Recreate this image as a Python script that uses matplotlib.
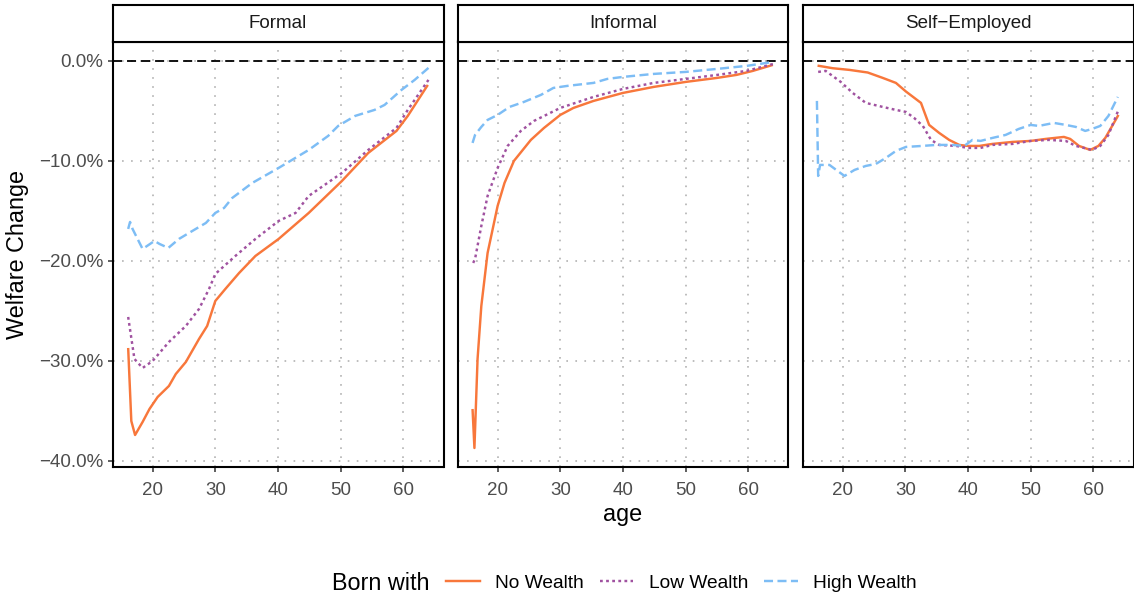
import matplotlib
matplotlib.use("Agg")
import matplotlib.pyplot as plt
from matplotlib.lines import Line2D
from matplotlib.ticker import FuncFormatter, FixedLocator

plt.rcParams['font.family'] = ['Liberation Sans', 'DejaVu Sans']
plt.rcParams['lines.scale_dashes'] = False

# ---------------------------------------------------------------- data
sectors = ["Formal", "Informal", "Self\u2212Employed"]
groups = ["No Wealth", "Low Wealth", "High Wealth"]

# Formal sector
formal_no_age = [16.1, 16.6, 17.2, 18.4, 19.5, 20.8, 22.6, 23.7, 25.3, 27.4, 28.7, 30.0,
                 31.6, 33.8, 36.4, 40.1, 44.9, 50.2, 54.4, 58.9, 60.7, 63.9]
formal_no_val = [-28.7, -36.0, -37.4, -36.1, -34.8, -33.6, -32.5, -31.3, -30.1, -27.8, -26.5, -24.0,
                 -22.8, -21.2, -19.5, -17.8, -15.2, -12.0, -9.2, -7.0, -5.5, -2.4]
formal_low_age = [16.1, 17.1, 18.4, 20.0, 22.6, 25.3, 27.4, 29.0, 30.0, 33.2, 36.4, 40.1,
                  42.8, 44.9, 50.2, 54.4, 58.9, 60.7, 64.0]
formal_low_val = [-25.6, -29.8, -30.7, -30.0, -28.1, -26.5, -24.8, -22.8, -21.3, -19.5, -17.8, -16.0,
                  -15.2, -13.5, -11.2, -8.9, -6.7, -4.9, -1.9]
formal_high_age = [16.1, 16.4, 16.8, 18.4, 20.3, 21.1, 22.5, 24.2, 25.8, 28.5, 30.0, 31.4,
                   32.7, 35.9, 40.1, 44.9, 48.0, 49.6, 52.3, 55.4, 57.0, 59.7, 61.8, 64.0]
formal_high_val = [-16.8, -16.1, -16.8, -18.8, -18.0, -18.3, -18.7, -17.8, -17.2, -16.2, -15.2, -14.7,
                   -13.7, -12.2, -10.7, -8.9, -7.5, -6.5, -5.5, -4.9, -4.4, -2.9, -1.9, -0.7]

# Informal sector
informal_no_age = [16.0, 16.3, 16.8, 17.4, 18.4, 20.0, 21.1, 22.6, 25.3, 27.4, 30.0, 32.1,
                   35.3, 40.0, 44.9, 50.0, 55.0, 58.1, 60.7, 63.9]
informal_no_val = [-34.8, -38.7, -29.8, -24.5, -19.2, -14.5, -12.2, -10.0, -7.9, -6.7, -5.4, -4.7,
                   -4.0, -3.2, -2.6, -2.1, -1.7, -1.4, -1.0, -0.4]
informal_low_age = [16.1, 16.4, 17.4, 18.4, 20.0, 21.6, 23.7, 25.8, 30.0, 35.3, 40.0, 44.9,
                    50.0, 55.0, 59.7, 64.0]
informal_low_val = [-20.2, -19.8, -16.5, -13.5, -10.7, -8.5, -7.0, -6.0, -4.7, -3.6, -2.8, -2.2,
                    -1.8, -1.4, -1.0, -0.3]
informal_high_age = [16.0, 16.4, 17.4, 18.4, 20.0, 21.9, 24.2, 26.9, 28.9, 31.1, 35.3, 37.5,
                     40.0, 44.9, 50.0, 55.0, 59.7, 64.0]
informal_high_val = [-8.2, -7.4, -6.6, -5.9, -5.4, -4.6, -4.1, -3.4, -2.7, -2.5, -2.2, -1.8,
                     -1.6, -1.3, -1.1, -0.8, -0.5, -0.1]

# Self-employed
self_no_age = [16.0, 18.4, 21.1, 24.0, 26.4, 28.5, 30.1, 32.5, 33.0, 33.8, 35.4, 37.0, 38.6,
               40.0, 41.8, 43.9, 47.1, 50.0, 52.4, 55.3, 56.3, 57.7, 59.5, 60.8, 61.9, 63.0, 64.0]
self_no_val = [-0.47, -0.73, -0.9, -1.16, -1.7, -2.2, -3.06, -4.2, -5.05, -6.4, -7.2, -7.9, -8.4,
               -8.5, -8.5, -8.3, -8.1, -8.0, -7.8, -7.6, -7.8, -8.5, -8.9, -8.5, -7.7, -6.5, -5.4]
self_low_age = [16.1, 17.3, 19.7, 21.6, 23.7, 26.4, 28.5, 30.1, 31.4, 32.8, 34.1, 35.4, 38.1,
                40.0, 42.0, 43.9, 47.1, 50.0, 52.9, 55.6, 57.2, 59.8, 61.1, 62.4, 64.0]
self_low_val = [-1.1, -1.0, -2.1, -3.2, -4.2, -4.6, -4.9, -5.1, -5.7, -6.5, -7.9, -8.4, -8.5,
                -8.7, -8.7, -8.4, -8.3, -8.0, -7.9, -8.0, -8.5, -8.9, -8.5, -7.4, -4.9]
self_high_age = [15.9, 16.1, 16.4, 17.9, 19.2, 20.3, 21.9, 23.7, 25.3, 26.9, 28.5, 30.1, 32.7,
                 34.9, 37.5, 39.4, 40.7, 42.0, 43.9, 46.0, 48.1, 50.0, 51.3, 53.7, 55.6, 57.2,
                 58.7, 59.8, 61.1, 62.4, 63.9]
self_high_val = [-4.0, -11.5, -10.4, -10.4, -11.0, -11.5, -10.9, -10.5, -10.3, -9.7, -9.0, -8.6, -8.5,
                 -8.4, -8.4, -8.5, -7.9, -8.0, -7.7, -7.4, -6.8, -6.4, -6.5, -6.2, -6.4, -6.6,
                 -7.0, -6.8, -6.5, -5.5, -3.6]

x_ticks = [20, 30, 40, 50, 60]
y_ticks = [0, -10, -20, -30, -40]

panel_data = {
    "Formal": [(formal_no_age, formal_no_val), (formal_low_age, formal_low_val),
               (formal_high_age, formal_high_val)],
    "Informal": [(informal_no_age, informal_no_val), (informal_low_age, informal_low_val),
                 (informal_high_age, informal_high_val)],
    "Self\u2212Employed": [(self_no_age, self_no_val), (self_low_age, self_low_val),
                           (self_high_age, self_high_val)],
}

# ---------------------------------------------------------------- styles
colors = ["#F8773B", "#A052A0", "#7DBDF5"]
dash_styles = ["-", (0, (2.0, 2.4)), (0, (6.5, 3.2))]
LW = 1.75
grid_color = "#BDBDBD"
tick_color = "#4D4D4D"
text_color = "#1A1A1A"

W, H = 1134, 595
fig = plt.figure(figsize=(W / 100, H / 100), dpi=100)

panel_left = [112.5, 457.5, 802.5]
panel_w = 331.0
panel_top, panel_bot = 41.5, 467.0
strip_top = 5.0


def fig_rect(x0, top, w, bottom):
    return [x0 / W, 1 - bottom / H, w / W, (bottom - top) / H]


def pct(v, _pos=None):
    s = f"{abs(v):.1f}%"
    return ("\u2212" + s) if v < 0 else s


for i, sec in enumerate(sectors):
    ax = fig.add_axes(fig_rect(panel_left[i], panel_top, panel_w, panel_bot))
    ax.set_xlim(13.6, 66.4)
    ax.set_ylim(-40.6, 1.94)

    # grid
    for xv in x_ticks:
        ax.axvline(xv, color=grid_color, lw=1.4, ls=(0, (1.2, 5.3)), zorder=0)
    for yv in y_ticks:
        ax.axhline(yv, color=grid_color, lw=1.4, ls=(0, (1.2, 5.3)), zorder=0)

    # reference line
    ax.axhline(0, color="black", lw=1.3, ls=(0, (6.5, 3.6)), zorder=1)

    for (ages, vals), c, ls in zip(panel_data[sec], colors, dash_styles):
        ax.plot(ages, vals, color=c, lw=LW, ls=ls, zorder=2,
                solid_capstyle="butt", dash_capstyle="butt")

    for sp in ax.spines.values():
        sp.set_linewidth(1.5)
        sp.set_color("black")

    ax.xaxis.set_major_locator(FixedLocator(x_ticks))
    ax.tick_params(axis="x", direction="out", length=3.5, width=1.1, color="#333333",
                   labelsize=13.5, labelcolor=tick_color, pad=7)
    if i == 0:
        ax.yaxis.set_major_locator(FixedLocator(y_ticks))
        ax.yaxis.set_major_formatter(FuncFormatter(pct))
        ax.tick_params(axis="y", direction="out", length=3.5, width=1.1, color="#333333",
                       labelsize=13.5, labelcolor=tick_color, pad=3)
    else:
        ax.set_yticks([])

    # facet strip
    sax = fig.add_axes(fig_rect(panel_left[i], strip_top, panel_w, panel_top))
    sax.set_xticks([])
    sax.set_yticks([])
    for sp in sax.spines.values():
        sp.set_linewidth(1.5)
        sp.set_color("black")
    sax.text(0.5, 0.5, sec, ha="center", va="center", fontsize=13.5,
             color=text_color, transform=sax.transAxes)

# axis titles
fig.text((panel_left[0] + panel_left[2] + panel_w) / 2 / W, 1 - 515 / H, "age",
         ha="center", va="center", fontsize=16.8, color="black")
fig.text(18 / W, 1 - (panel_top + panel_bot) / 2 / H, "Welfare Change",
         ha="center", va="center", rotation=90, fontsize=16.8, color="black")

# legend
fig.text(429 / W, 1 - 583 / H, "Born with", ha="right", va="center",
         fontsize=16.8, color="black")
handles = [Line2D([], [], color=c, lw=LW, ls=ls) for c, ls in zip(colors, dash_styles)]
fig.legend(handles, groups, loc="center left", bbox_to_anchor=(446 / W, 1 - 583 / H),
           ncol=3, frameon=False, fontsize=13.8, handlelength=1.75, handletextpad=0.8,
           columnspacing=0.85, borderpad=0, borderaxespad=0)

fig.savefig("out.png", dpi=100, facecolor="white")
